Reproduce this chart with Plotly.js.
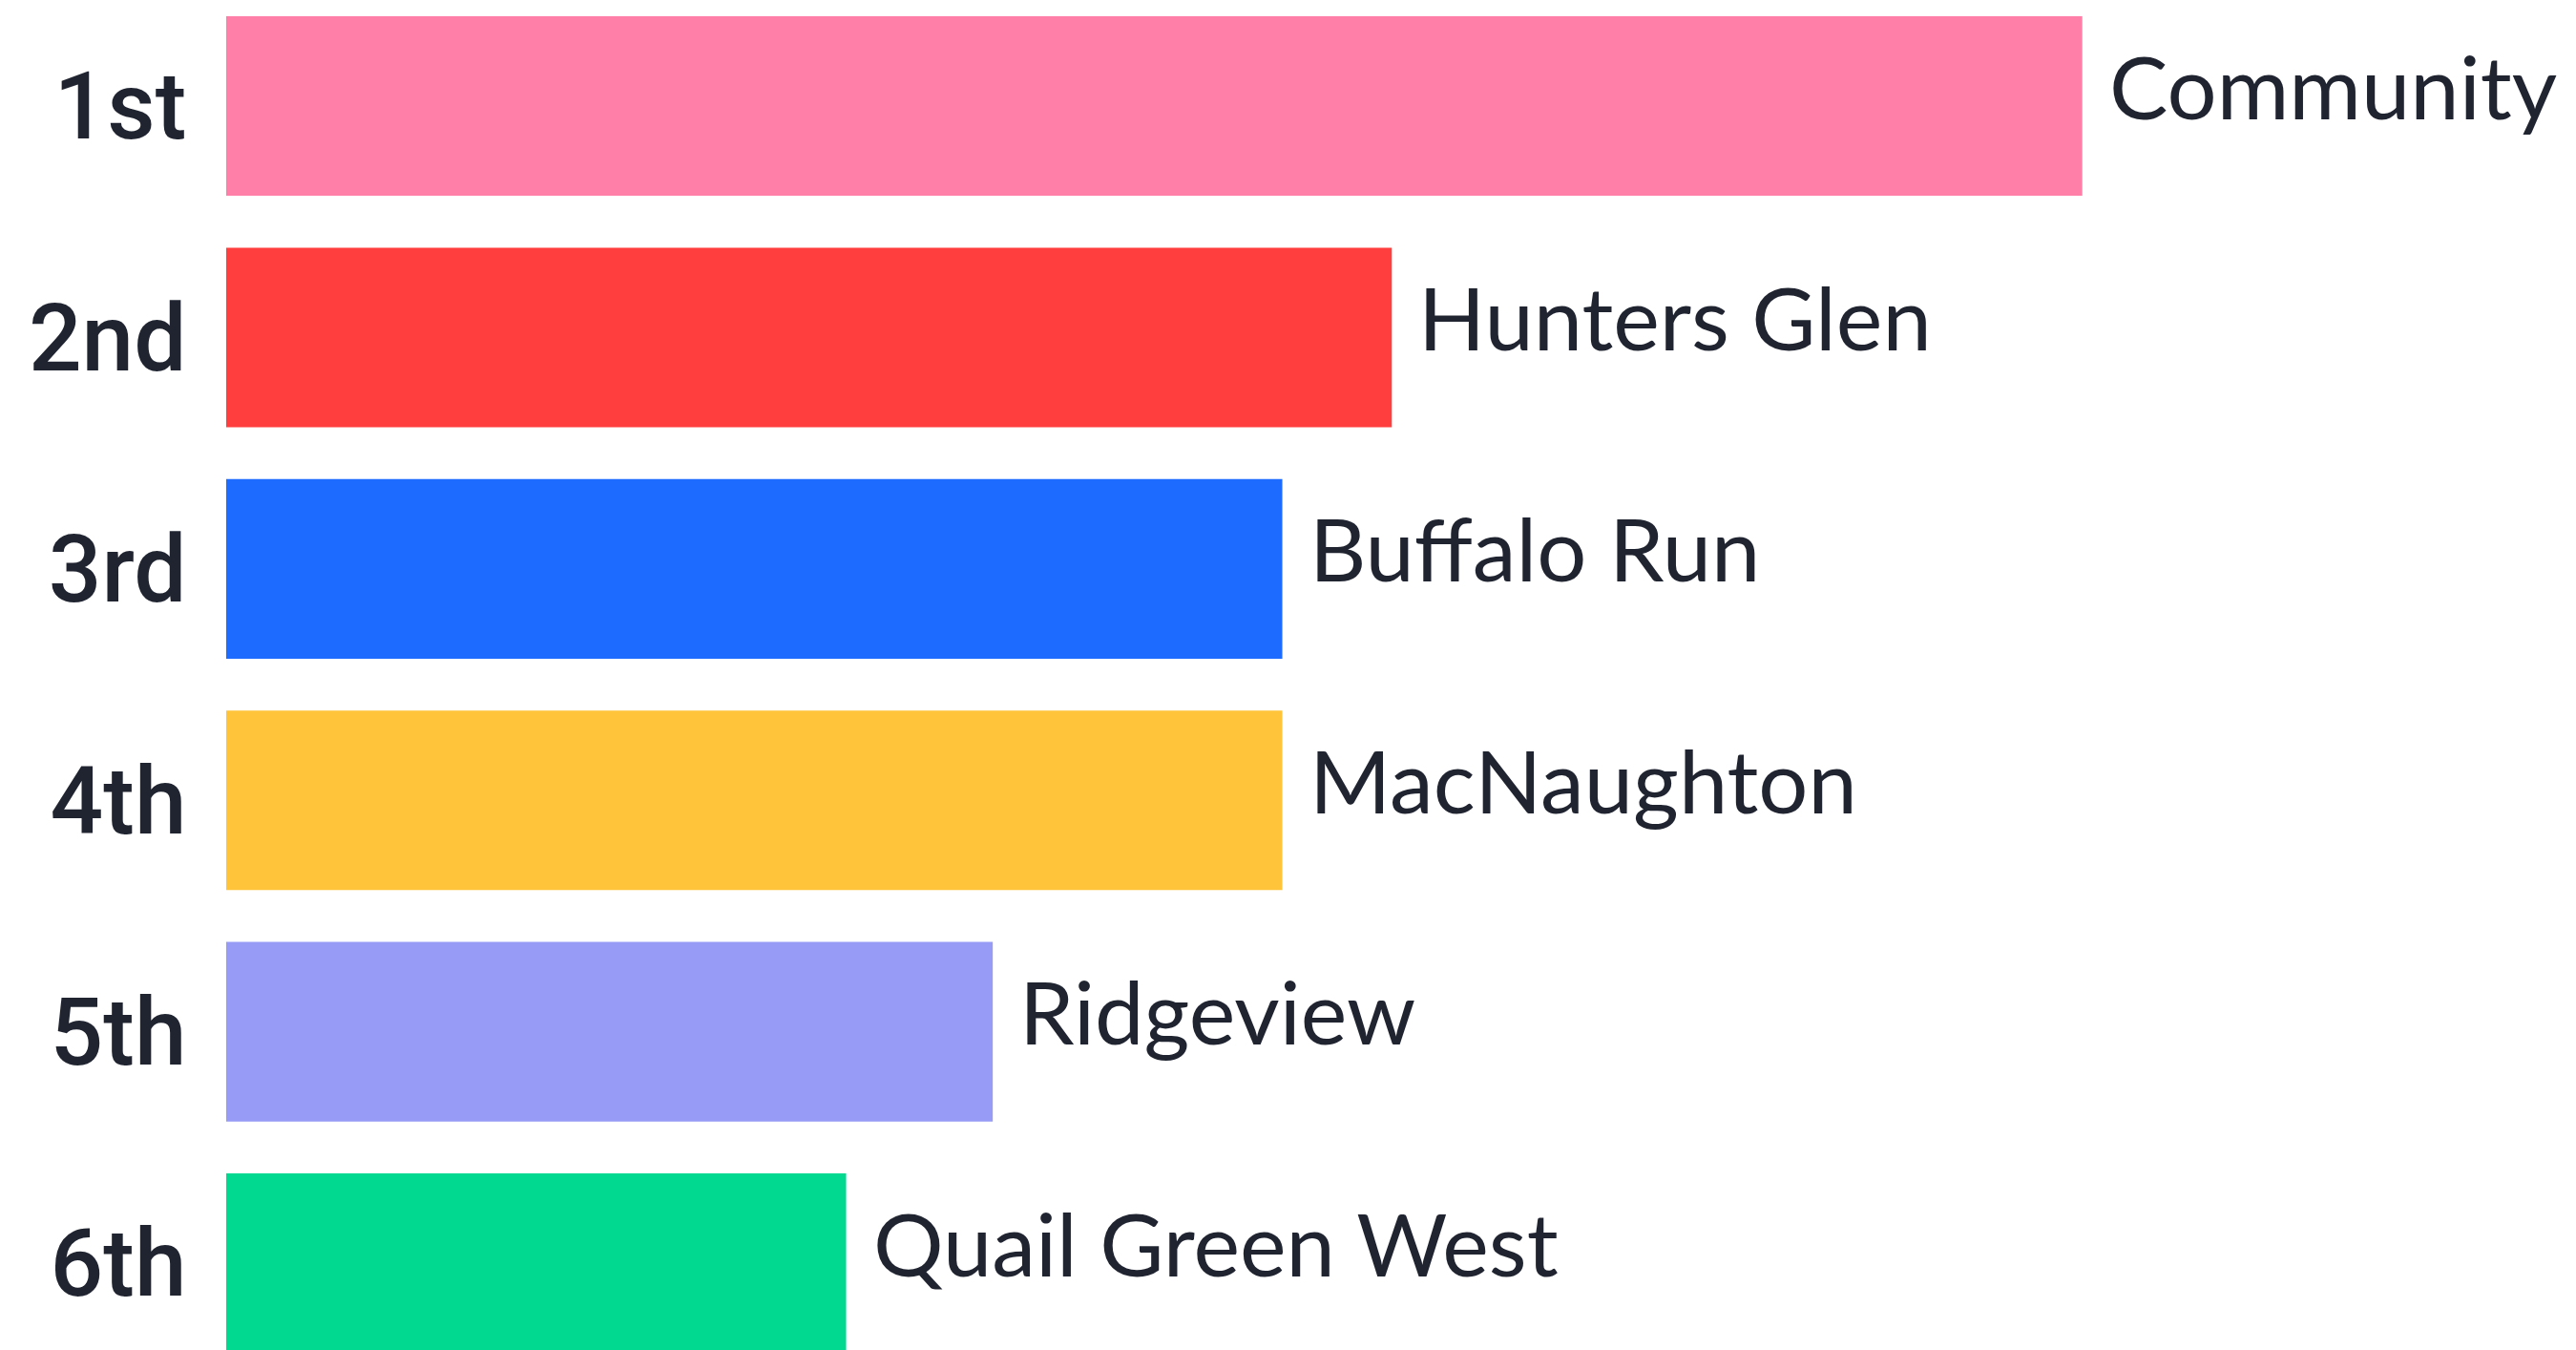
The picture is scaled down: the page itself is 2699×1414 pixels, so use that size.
<!DOCTYPE html>
<html>
<head>
<meta charset="utf-8">
<script src="https://cdn.plot.ly/plotly-3.0.1.min.js"></script>
<style>html,body{margin:0;padding:0;background:#fff;}#chart{width:2699px;height:1414px;}</style>
</head>
<body>
<div id="chart"></div>
<script>
const ranks = ["1st", "2nd", "3rd", "4th", "5th", "6th"];
const names = ["Community", "Hunters Glen", "Buffalo Run", "MacNaughton", "Ridgeview", "Quail Green West"];
const values = [100, 62.8, 56.9, 56.9, 41.3, 33.4];
const colors = ["#FF7FA8", "#FF3E3D", "#1E6BFF", "#FFC43A", "#979BF5", "#00D98F"];

const positions = ranks.map((_, i) => i);

const trace = {
  type: "bar",
  orientation: "h",
  x: values,
  y: positions,
  marker: {color: colors, line: {width: 0}},
  hoverinfo: "none"
};

const annotations = names.map((n, i) => ({
  x: values[i], y: positions[i], xref: "x", yref: "y",
  text: n, showarrow: false, xanchor: "left", yanchor: "middle",
  xshift: 26, yshift: 22,
  font: {family: "Lato, sans-serif", size: 92, color: "#1F2430"}
}));

const layout = {
  width: 2699, height: 1414,
  margin: {l: 237, r: 0, t: 0, b: 0, pad: 0},
  paper_bgcolor: "#ffffff", plot_bgcolor: "#ffffff",
  showlegend: false,
  bargap: 0.224,
  xaxis: {range: [0, 126.6], visible: false, fixedrange: true},
  yaxis: {
    range: [5.375, -0.458],
    tickmode: "array", tickvals: positions, ticktext: ranks,
    showgrid: false, zeroline: false, showline: false,
    ticks: "outside", ticklen: 21, tickcolor: "rgba(0,0,0,0)",
    tickfont: {family: "Roboto, sans-serif", size: 98, color: "#1F2430", weight: 500},
    fixedrange: true
  },
  annotations: annotations
};

Plotly.newPlot("chart", [trace], layout, {displayModeBar: false, staticPlot: true});
</script>
</body>
</html>
